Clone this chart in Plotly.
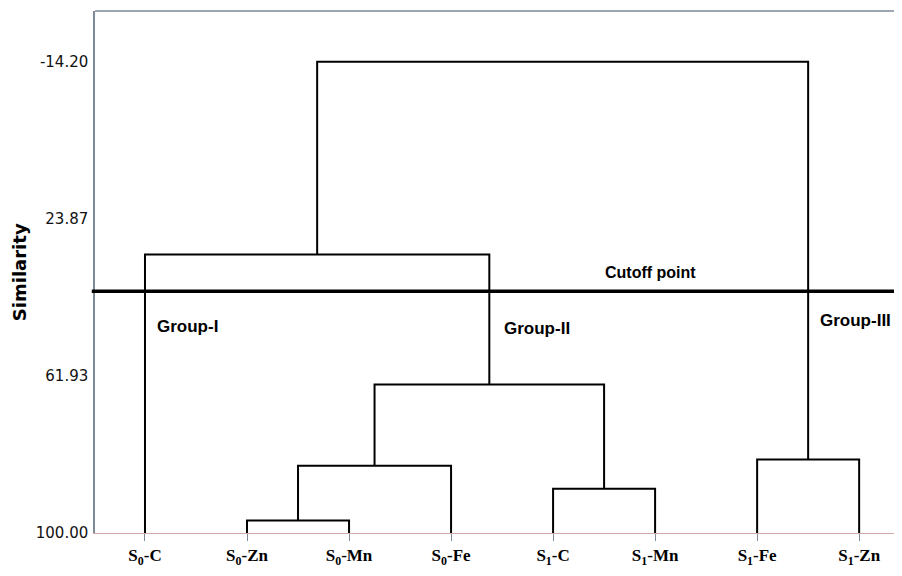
import plotly.graph_objects as go

# ---- data ----
leaf_labels = ["S<sub>0</sub>-C", "S<sub>0</sub>-Zn", "S<sub>0</sub>-Mn", "S<sub>0</sub>-Fe",
               "S<sub>1</sub>-C", "S<sub>1</sub>-Mn", "S<sub>1</sub>-Fe", "S<sub>1</sub>-Zn"]
leaf_positions = [1, 2, 3, 4, 5, 6, 7, 8]
leaf_similarity = 100.0

# merges (scipy-like: leaves are 0..7, merge k creates node 8+k)
merge_a = [1, 4, 8, 6, 10, 0, 13]
merge_b = [2, 5, 3, 7, 9, 12, 11]
merge_h = [97.0, 89.3, 83.7, 82.2, 64.0, 32.5, -14.2]

cutoff_value = 41.4
y_tick_vals = [-14.20, 23.87, 61.93, 100.00]
y_tick_text = ["-14.20", "23.87", "61.93", "100.00"]

group_names = ["Group-I", "Group-II", "Group-III"]
group_x = [1.1, 4.5, 7.6]
group_y = [50.0, 50.5, 48.6]

# ---- build dendrogram segments ----
node_x = {i: p for i, p in enumerate(leaf_positions)}
node_y = {i: leaf_similarity for i in range(len(leaf_positions))}
xs, ys = [], []
for k, (a, b, h) in enumerate(zip(merge_a, merge_b, merge_h)):
    nid = len(leaf_positions) + k
    xa, ya, xb, yb = node_x[a], node_y[a], node_x[b], node_y[b]
    xs += [xa, xa, xb, xb, None]
    ys += [ya, h, h, yb, None]
    node_x[nid] = (xa + xb) / 2
    node_y[nid] = h

fig = go.Figure()
fig.add_trace(go.Scatter(x=xs, y=ys, mode="lines",
                         line=dict(color="black", width=2),
                         hoverinfo="skip", showlegend=False, cliponaxis=False))

# cutoff line
fig.add_shape(type="line", xref="paper", yref="y", x0=-0.004, x1=1,
              y0=cutoff_value, y1=cutoff_value,
              line=dict(color="black", width=3.5))
# top frame line
fig.add_shape(type="line", xref="paper", yref="paper", x0=0, x1=1, y0=1, y1=1,
              line=dict(color="#7d8a99", width=1.5))

fig.add_annotation(x=5.95, y=cutoff_value, yshift=19, text="<b>Cutoff point</b>",
                   showarrow=False, xanchor="center",
                   font=dict(family="Liberation Sans", size=16, color="black"))

for name, gx, gy in zip(group_names, group_x, group_y):
    fig.add_annotation(x=gx, y=gy, text="<b>" + name + "</b>", showarrow=False,
                       xanchor="left", yanchor="middle",
                       font=dict(family="Liberation Sans", size=17, color="black"))

fig.add_annotation(xref="paper", yref="paper", x=-0.094, y=0.5, text="<b>Similarity</b>",
                   textangle=-90, showarrow=False, xanchor="center", yanchor="middle",
                   font=dict(family="DejaVu Sans", size=18, color="black"))

fig.update_xaxes(range=[0.51, 8.42], tickvals=leaf_positions,
                 ticktext=["<b>" + t + "</b>" for t in leaf_labels],
                 ticks="outside", ticklen=7, tickcolor="#7d8a99", tickwidth=1,
                 showline=True, linecolor="#d2a8a8", linewidth=1,
                 showgrid=False, zeroline=False,
                 tickfont=dict(family="Liberation Serif", size=17, color="black"))
fig.update_yaxes(range=[100, -26.5], tickvals=y_tick_vals, ticktext=y_tick_text,
                 ticks="", showline=True, linecolor="#7d8a99", linewidth=1.5,
                 showgrid=False, zeroline=False, ticklabelstandoff=2,
                 tickfont=dict(family="DejaVu Sans", size=15, color="#111111"))

fig.update_layout(width=894, height=560, margin=dict(l=87, r=0, t=3, b=33),
                  plot_bgcolor="white", paper_bgcolor="white", showlegend=False)

fig.write_html("out.html")
